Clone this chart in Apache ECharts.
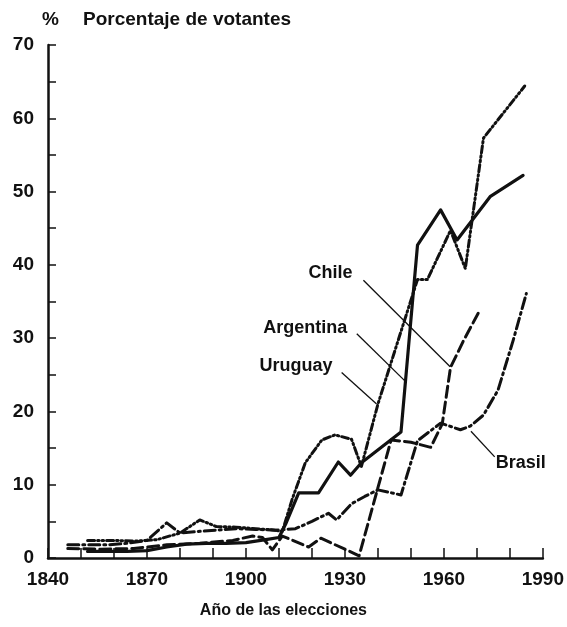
<!DOCTYPE html>
<html>
<head>
<meta charset="utf-8">
<script src="https://cdn.jsdelivr.net/npm/echarts@6/dist/echarts.min.js"></script>
<style>
  html, body { margin: 0; padding: 0; background: #fff; }
  #chart { width: 567px; height: 627px; }
</style>
</head>
<body>
<div id="chart"></div>
<script>
// values (year, % of population voting)
var argentinaYears = [1852, 1858, 1864, 1870, 1876, 1882, 1888, 1894, 1900, 1906, 1910, 1912, 1916, 1922, 1928, 1931.7, 1935, 1947, 1952, 1959, 1964, 1974, 1984];
var argentinaPct   = [0.9, 0.9, 0.9, 1.0, 1.5, 1.9, 2.0, 2.0, 2.1, 2.5, 2.8, 4.6, 8.9, 8.9, 13.1, 11.3, 13.0, 17.2, 42.7, 47.5, 43.4, 49.3, 52.2];

var uruguayYears = [1852, 1860, 1866, 1873, 1880, 1886, 1891, 1897, 1903, 1909, 1911, 1914, 1918, 1923, 1927, 1932, 1935, 1940, 1952, 1955, 1962, 1966.5, 1972, 1984.5];
var uruguayPct   = [2.4, 2.4, 2.3, 2.5, 3.4, 5.2, 4.3, 4.2, 4.0, 3.8, 3.6, 8.0, 13.0, 16.1, 16.8, 16.2, 12.5, 21.0, 38.0, 38.0, 44.7, 39.5, 57.3, 64.4];

var chileYears = [1846, 1856, 1866, 1876, 1886, 1896, 1902, 1905, 1908, 1911, 1919, 1922.7, 1930, 1934.3, 1944, 1950, 1956, 1959.5, 1962, 1966, 1970.4];
var chilePct   = [1.3, 1.2, 1.3, 1.8, 2.0, 2.4, 3.0, 2.8, 1.1, 3.0, 1.5, 2.7, 1.2, 0.3, 16.1, 15.8, 15.1, 18.3, 26.0, 29.7, 33.4];

var brasilYears = [1846, 1852, 1858, 1864, 1870, 1876, 1880, 1885, 1891, 1897, 1903, 1909, 1915, 1920, 1925, 1927.5, 1932, 1936, 1940, 1947, 1952, 1959, 1965, 1968, 1972, 1976.4, 1981, 1985];
var brasilPct   = [1.8, 1.8, 1.8, 2.0, 2.4, 4.8, 3.4, 3.6, 3.8, 4.0, 3.9, 3.8, 4.0, 5.0, 6.1, 5.2, 7.4, 8.4, 9.3, 8.6, 16.0, 18.4, 17.5, 18.0, 19.5, 22.9, 29.7, 36.1];

var xTicks = [1840, 1870, 1900, 1930, 1960, 1990];
var yTicks = [0, 10, 20, 30, 40, 50, 60, 70];

function zip(xs, ys) {
  return xs.map(function (x, i) { return [x, ys[i]]; });
}

var ink = "#111";
var font = "'Liberation Sans', Arial, sans-serif";

function leader(label, at, from, to) {
  return {
    markPoint: {
      silent: true,
      symbol: "circle",
      symbolSize: 0,
      data: [{ coord: at, value: label }],
      label: {
        show: true,
        position: "inside",
        formatter: label,
        color: ink,
        fontFamily: font,
        fontWeight: "bold",
        fontSize: 18,
      },
    },
    markLine: {
      silent: true,
      symbol: "none",
      animation: false,
      lineStyle: { color: ink, width: 1.3, type: "solid" },
      label: { show: false },
      data: [[{ coord: from }, { coord: to }]],
    },
  };
}

function lineSeries(name, data, dash, width, ann) {
  var s = {
    name: name,
    type: "line",
    data: data,
    symbol: "none",
    showSymbol: false,
    animation: false,
    lineStyle: { color: ink, width: width, type: dash, cap: "round", join: "round" },
  };
  if (ann) {
    s.markPoint = ann.markPoint;
    s.markLine = ann.markLine;
  }
  return s;
}

var chartDom = document.getElementById("chart");
var myChart = echarts.init(chartDom, null, { renderer: "canvas" });
var option;

option = {
  backgroundColor: "#fff",
  animation: false,
  title: {
    text: "Porcentaje de votantes",
    left: 83,
    top: 10,
    padding: 0,
    textStyle: { color: ink, fontFamily: font, fontSize: 19, fontWeight: "bold" },
  },
  grid: { left: 48, right: 24, top: 45, bottom: 69 },
  xAxis: {
    type: "value",
    min: 1840,
    max: 1990,
    interval: 10,
    name: "Año de las elecciones",
    nameLocation: "middle",
    nameGap: 45,
    nameTextStyle: { color: ink, fontFamily: font, fontSize: 16, fontWeight: "bold", padding: [0, 24, 0, 0] },
    splitLine: { show: false },
    axisLine: { lineStyle: { color: ink, width: 2.5 } },
    axisTick: { inside: true, length: 10, lineStyle: { color: ink, width: 1.5 } },
    axisLabel: {
      color: ink,
      fontFamily: font,
      fontWeight: "bold",
      fontSize: 19,
      margin: 12,
      formatter: function (v) {
        return xTicks.indexOf(v) >= 0 ? String(v) : "";
      },
    },
  },
  yAxis: {
    type: "value",
    min: 0,
    max: 70,
    interval: 5,
    name: "%",
    nameLocation: "end",
    nameGap: 16,
    nameTextStyle: { color: ink, fontFamily: font, fontSize: 19, fontWeight: "bold", align: "left", padding: [0, 0, 0, -6] },
    splitLine: { show: false },
    axisLine: { show: true, lineStyle: { color: ink, width: 2.5 } },
    axisTick: { show: true, inside: true, length: 8, lineStyle: { color: ink, width: 1.5 } },
    axisLabel: {
      color: ink,
      fontFamily: font,
      fontWeight: "bold",
      fontSize: 19,
      margin: 14,
      formatter: function (v) {
        return yTicks.indexOf(v) >= 0 ? String(v) : "";
      },
    },
  },
  series: [
    lineSeries("Argentina", zip(argentinaYears, argentinaPct), "solid", 3.2,
      leader("Argentina", [1918.0, 31.4], [1933.6, 30.6], [1948.1, 24.2])),
    lineSeries("Uruguay", zip(uruguayYears, uruguayPct), [7, 3, 1.5, 3, 1.5, 3], 3,
      leader("Uruguay", [1915.2, 26.2], [1929, 25.3], [1939.6, 21.0])),
    lineSeries("Chile", zip(chileYears, chilePct), [11, 5], 3,
      leader("Chile", [1925.6, 38.9], [1935.6, 37.9], [1961.9, 26.1])),
    lineSeries("Brasil", zip(brasilYears, brasilPct), [11, 4, 2, 4], 3,
      leader("Brasil", [1983.3, 13.0], [1975.4, 13.8], [1968.2, 17.3])),
  ],
};

option && myChart.setOption(option);
</script>
</body>
</html>
